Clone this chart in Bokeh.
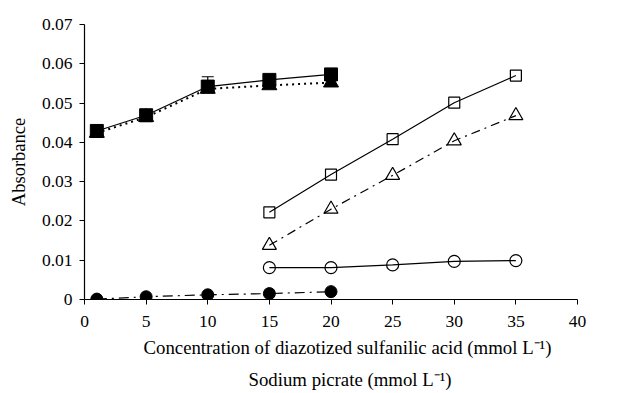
from bokeh.plotting import figure
from bokeh.models import ColumnDataSource, FixedTicker, Whisker, TeeHead, Title
from bokeh.embed import file_html
from bokeh.resources import INLINE

# --- data ---
x_low = [1, 5, 10, 15, 20]
x_high = [15, 20, 25, 30, 35]
filled_square = [0.0429, 0.0469, 0.0542, 0.0559, 0.0573]
filled_triangle = [0.0424, 0.0464, 0.0536, 0.0545, 0.0552]
filled_circle = [0.0001, 0.0007, 0.0012, 0.0015, 0.0020]
open_square = [0.0222, 0.0318, 0.0408, 0.0501, 0.0570]
open_triangle = [0.0138, 0.0230, 0.0316, 0.0404, 0.0468]
open_circle = [0.0081, 0.0081, 0.0088, 0.0097, 0.0099]
err_x = [10]
err_y = [0.0542]
err_up = [0.0567]

x_ticks = [0, 5, 10, 15, 20, 25, 30, 35, 40]
y_ticks = [0, 0.01, 0.02, 0.03, 0.04, 0.05, 0.06, 0.07]
y_tick_labels = ["0", "0.01", "0.02", "0.03", "0.04", "0.05", "0.06", "0.07"]
x_label = "Concentration of diazotized sulfanilic acid (mmol L\u207b\u00b9)"
x_label2 = "Sodium picrate (mmol L\u207b\u00b9)"

FONT = "Liberation Serif"

p = figure(width=617, height=393, output_backend="svg", toolbar_location=None,
           x_range=(0, 40), y_range=(0, 0.07),
           min_border_left=84, min_border_right=40, min_border_top=24, min_border_bottom=92)
p.outline_line_color = None
p.grid.visible = False
p.background_fill_color = "white"

for ax in (p.xaxis[0], p.yaxis[0]):
    ax.axis_line_color = "black"
    ax.axis_line_width = 1.2
    ax.major_tick_line_color = "black"
    ax.major_tick_in = 0
    ax.major_tick_out = 5
    ax.minor_tick_line_color = None
    ax.major_label_text_font = FONT
    ax.major_label_text_font_size = "17.5px"
    ax.major_label_text_color = "black"
    ax.axis_label_text_font = FONT
    ax.axis_label_text_font_size = "18.5px"
    ax.axis_label_text_font_style = "normal"
    ax.axis_label_text_color = "black"

p.xaxis.ticker = FixedTicker(ticks=x_ticks)
p.yaxis.ticker = FixedTicker(ticks=y_ticks)
p.yaxis.major_label_overrides = {t: l for t, l in zip(y_ticks, y_tick_labels)}
p.xaxis.major_label_standoff = 11
p.yaxis.major_label_standoff = 7

p.yaxis.axis_label = "Absorbance"
p.yaxis.axis_label_standoff = 10

for txt, off, so in ((x_label, 59, 11), (x_label2, 164, 7)):
    p.add_layout(Title(text=txt, align="left", offset=off, text_font=FONT, text_font_size="18.8px",
                       text_font_style="normal", text_color="black", standoff=so), "below")

# series
lw = 1.2
p.line(x_low, filled_square, line_color="black", line_width=lw)
p.line(x_low, filled_triangle, line_color="black", line_width=2, line_dash="2 4")
p.line(x_low, filled_circle, line_color="black", line_width=lw, line_dash="10 5 2 5")
p.line(x_high, open_square, line_color="black", line_width=lw)
p.line(x_high, open_triangle, line_color="black", line_width=lw, line_dash="9 5 2 5")
p.line(x_high, open_circle, line_color="black", line_width=lw)

src_err = ColumnDataSource(dict(x=err_x, base=err_y, upper=err_up))
p.add_layout(Whisker(source=src_err, base="x", upper="upper", lower="base", dimension="height",
                     line_color="black", line_width=lw,
                     upper_head=TeeHead(size=12, line_color="black", line_width=lw),
                     lower_head=None))

p.scatter(x_low, filled_triangle, marker="triangle", size=15, fill_color="black", line_color="black")
p.scatter(x_low, filled_square, marker="square", size=13, fill_color="black", line_color="black")
p.scatter(x_low, filled_circle, marker="circle", size=12, fill_color="black", line_color="black")
p.scatter(x_high, open_square, marker="square", size=11, fill_alpha=0, line_color="black", line_width=1.2)
p.scatter(x_high, open_triangle, marker="triangle", size=14, fill_alpha=0, line_color="black", line_width=1.2)
p.scatter(x_high, open_circle, marker="circle", size=12, fill_alpha=0, line_color="black", line_width=1.2)

open("out.html", "w").write(file_html(p, INLINE))
